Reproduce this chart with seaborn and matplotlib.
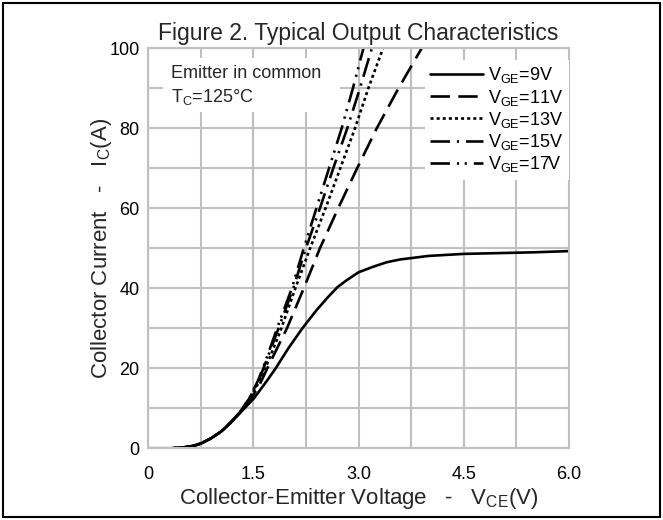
import matplotlib
matplotlib.use("Agg")
import matplotlib.pyplot as plt
import seaborn as sns
import pandas as pd
from matplotlib.patches import Rectangle
from matplotlib.ticker import MultipleLocator

# ---- data ----
v_9v = [0, 0.3, 0.5, 0.65, 0.76, 0.9, 1.05, 1.17, 1.3, 1.51, 1.7, 1.82, 2.0, 2.2, 2.4, 2.55,
        2.7, 2.83, 3.0, 3.21, 3.4, 3.59, 4.0, 4.5, 5.0, 5.5, 6.0]
i_9v = [0, 0, 0.2, 0.6, 1.25, 2.5, 4.3, 6.2, 8.6, 12.5, 17, 20, 25, 30, 34.5, 37.5,
        40.3, 42, 44, 45.4, 46.5, 47.2, 48.1, 48.6, 48.8, 49.0, 49.3]

v_11v = [0, 0.3, 0.5, 0.65, 0.76, 0.9, 1.05, 1.17, 1.3, 1.45, 1.58, 1.70, 1.84, 1.98, 2.22,
         2.45, 2.71, 2.98, 3.26, 3.57, 3.9, 4.0]
i_11v = [0, 0, 0.2, 0.6, 1.25, 2.5, 4.3, 6.3, 8.8, 12, 15.5, 20, 25, 30, 40,
         50, 60, 70, 80, 90, 100, 103]

v_13v = [0, 0.3, 0.5, 0.65, 0.76, 0.9, 1.05, 1.17, 1.3, 1.45, 1.58, 1.72, 1.88, 2.1,
         2.31, 2.53, 2.74, 2.95, 3.14, 3.35, 3.45]
i_13v = [0, 0, 0.2, 0.6, 1.25, 2.5, 4.3, 6.3, 8.8, 12.5, 16.5, 22, 29, 40,
         50, 60, 70, 80, 90, 100, 105]

v_15v = [0, 0.3, 0.5, 0.65, 0.76, 0.9, 1.05, 1.17, 1.3, 1.45, 1.58, 1.70, 1.86, 2.07,
         2.25, 2.45, 2.64, 2.84, 3.02, 3.19, 3.28]
i_15v = [0, 0, 0.2, 0.6, 1.25, 2.5, 4.3, 6.3, 8.8, 12.6, 17, 22.5, 30, 40,
         50, 60, 70, 80, 90, 100, 105]

v_17v = [0, 0.3, 0.5, 0.65, 0.76, 0.9, 1.05, 1.17, 1.3, 1.45, 1.57, 1.70, 1.85, 2.05,
         2.22, 2.40, 2.58, 2.76, 2.92, 3.07, 3.15]
i_17v = [0, 0, 0.2, 0.6, 1.25, 2.5, 4.3, 6.3, 8.8, 12.7, 17, 23, 30.5, 40,
         50, 60, 70, 80, 90, 100, 105]

vge_labels = ["9V", "11V", "13V", "15V", "17V"]
x_ticks = [0, 1.5, 3.0, 4.5, 6.0]
x_ticklabels = ["0", "1.5", "3.0", "4.5", "6.0"]
y_ticks = [0, 20, 40, 60, 80, 100]

series = {"9V": (v_9v, i_9v), "11V": (v_11v, i_11v), "13V": (v_13v, i_13v),
          "15V": (v_15v, i_15v), "17V": (v_17v, i_17v)}
df = pd.concat([pd.DataFrame({"V": v, "I": i, "VGE": k}) for k, (v, i) in series.items()],
               ignore_index=True)

# ---- style ----
sns.set_theme(style="whitegrid")
plt.rcParams["font.family"] = ["Liberation Sans", "DejaVu Sans"]
plt.rcParams["mathtext.fontset"] = "custom"
plt.rcParams["mathtext.rm"] = "Liberation Sans"
plt.rcParams["mathtext.it"] = "Liberation Sans:italic"
plt.rcParams["mathtext.default"] = "regular"
plt.rcParams["lines.scale_dashes"] = False

GRID = "#c0c0c0"
linestyles = {
    "9V": "-",
    "11V": (0, (14, 6)),
    "13V": (0, (2.2, 2.2)),
    "15V": (0, (14, 5, 1.6, 5)),
    "17V": (0, (14, 5, 1.6, 4, 1.6, 5)),
}

fig = plt.figure(figsize=(6.63, 5.2), dpi=100)
W, H = 663, 520
ax = fig.add_axes([148 / W, 1 - 448.3 / H, 421 / W, 400 / H])

handles = []
for lab in vge_labels:
    d = df[df["VGE"] == lab]
    sns.lineplot(data=d, x="V", y="I", ax=ax, color="black", linewidth=1.9,
                 linestyle=linestyles[lab], sort=False, estimator=None, legend=False)
    handles.append(ax.lines[-1])

ax.set_xlim(0, 6.0)
ax.set_ylim(0, 100)
ax.set_xticks(x_ticks)
ax.set_xticklabels(x_ticklabels)
ax.set_yticks(y_ticks)
ax.xaxis.set_minor_locator(MultipleLocator(0.75))
ax.yaxis.set_minor_locator(MultipleLocator(10))
ax.grid(True, which="both", color=GRID, linewidth=1.5)
ax.set_axisbelow(True)
for s in ax.spines.values():
    s.set_color(GRID)
    s.set_linewidth(1.5)
ax.tick_params(axis="both", which="both", length=0, labelsize=13, colors="black")
ax.tick_params(axis="x", pad=13)
ax.tick_params(axis="y", pad=6)

ax.set_title("Figure 2. Typical Output Characteristics", fontsize=16.5, pad=6)
ax.set_xlabel("Collector-Emitter Voltage   -   $V_{CE}$(V)", fontsize=16, labelpad=2)
ax.set_ylabel("Collector Current   -   $I_{C}$(A)", fontsize=16, labelpad=-3)

# annotation with white background
ax.add_patch(Rectangle((163 / W, 1 - 112 / H), 177 / W, 54 / H, transform=fig.transFigure,
                       facecolor="white", edgecolor="none", zorder=1))
fig.text(171 / W, 1 - 73 / H, "Emitter in common", fontsize=13, va="center", ha="left")
fig.text(171 / W, 1 - 97 / H, "T$_C$=125°C", fontsize=13, va="center", ha="left")

leg = ax.legend(handles, [f"$V_{{GE}}$={l}" for l in vge_labels],
                loc="upper left", bbox_to_anchor=(425 / W, 1 - 60 / H),
                bbox_transform=fig.transFigure, borderaxespad=0, borderpad=0.3,
                frameon=True, fancybox=False, framealpha=1, facecolor="white",
                edgecolor="none", fontsize=13, handlelength=2.9, handletextpad=0.3,
                labelspacing=0.12)
for t in leg.get_texts():
    t.set_color("black")

# outer figure border
fig.patches.append(Rectangle((3 / W, 3 / H), 657 / W, 514 / H, transform=fig.transFigure,
                             fill=False, edgecolor="black", linewidth=1.5))

fig.savefig("out.png", dpi=100)
